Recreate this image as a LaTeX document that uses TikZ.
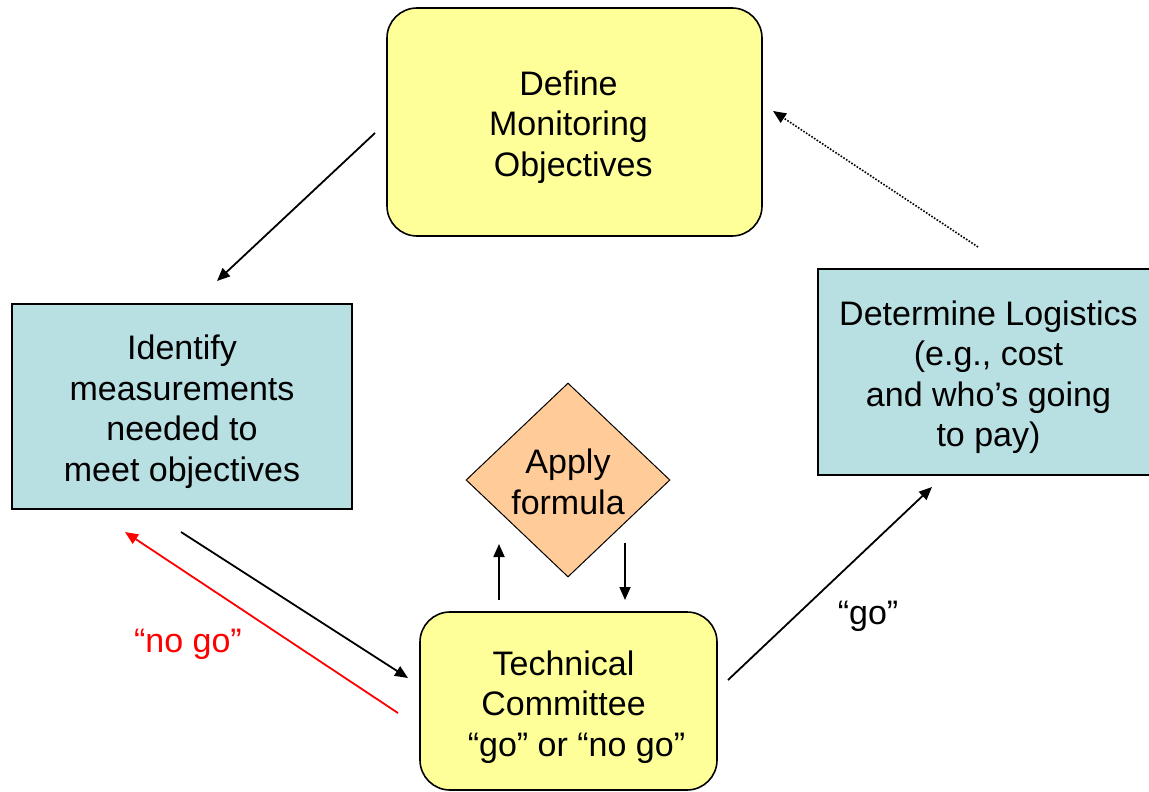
\documentclass[tikz,border=0pt]{standalone}
\usepackage{fontspec}
\setmainfont{Liberation Sans}
\usetikzlibrary{arrows.meta,shapes.geometric}
\definecolor{boxyellow}{HTML}{FFFF99}
\definecolor{boxteal}{HTML}{B8DFE2}
\definecolor{boxorange}{HTML}{FFCC99}
\begin{document}
\begin{tikzpicture}[x=1pt,y=-1pt,
  lbl/.style={font=\fontsize{34}{40.5}\selectfont, align=center, inner sep=0pt},
  ybox/.style={draw=black, line width=1.6pt, fill=boxyellow, rounded corners=30pt, inner sep=0pt},
  tbox/.style={draw=black, line width=1.6pt, fill=boxteal, inner sep=0pt},
  dbox/.style={draw=black, line width=1pt, fill=boxorange, diamond, aspect=1.05, inner sep=0pt},
  conn/.style={line width=1.8pt, -{Triangle[length=13pt,width=11pt]}}
]
\useasboundingbox (0,0) rectangle (1149,792);
% shapes
\node[ybox, minimum width=375pt, minimum height=228pt] (define) at (574.5,122) {};
\node[tbox, minimum width=340pt, minimum height=205pt] (identify) at (182,406.5) {};
\node[tbox, minimum width=340pt, minimum height=206pt] (logistics) at (988,372) {};
\node[ybox, minimum width=297pt, minimum height=178pt] (tech) at (568.5,701) {};
\node[dbox, minimum width=204pt, minimum height=194pt] (formula) at (568,480) {};
% texts
\node[lbl] (definetxt) at (568.5,127) {Define\\Monitoring\\\ Objectives};
\node[lbl] (identifytxt) at (182,411.5) {Identify\\measurements\\needed to\\meet objectives};
\node[lbl] (logisticstxt) at (988.5,377) {Determine Logistics\\(e.g., cost\\and who’s going\\to pay)};
\node[lbl] (techtxt) at (563.5,707) {Technical\\Committee\\\hspace*{26pt}“go” or “no go”};
\node[lbl] (formulatxt) at (568,482) {Apply\\formula};
\node[lbl, text=red] (nogo) at (188,644) {“no go”};
\node[lbl] (go) at (868,616) {“go”};

\coordinate (a1) at (375,133); \coordinate (a2) at (217,281);
\coordinate (b1) at (181,532); \coordinate (b2) at (408,678);
\coordinate (c1) at (398,713); \coordinate (c2) at (125,532);
\coordinate (d1) at (499,600); \coordinate (d2) at (499,544);
\coordinate (e1) at (625,543); \coordinate (e2) at (625,600);
\coordinate (f1) at (728,680); \coordinate (f2) at (932,487);
\coordinate (g1) at (978,247); \coordinate (g2) at (773,111);

\draw[conn] (a1) -- (a2);
\draw[conn] (b1) -- (b2);
\draw[conn, red] (c1) -- (c2);
\draw[conn] (d1) -- (d2);
\draw[conn] (e1) -- (e2);
\draw[conn] (f1) -- (f2);
\draw[conn, line width=1.6pt, dash pattern=on 1.6pt off 1.6pt] (g1) -- (g2);
\end{tikzpicture}
\end{document}
